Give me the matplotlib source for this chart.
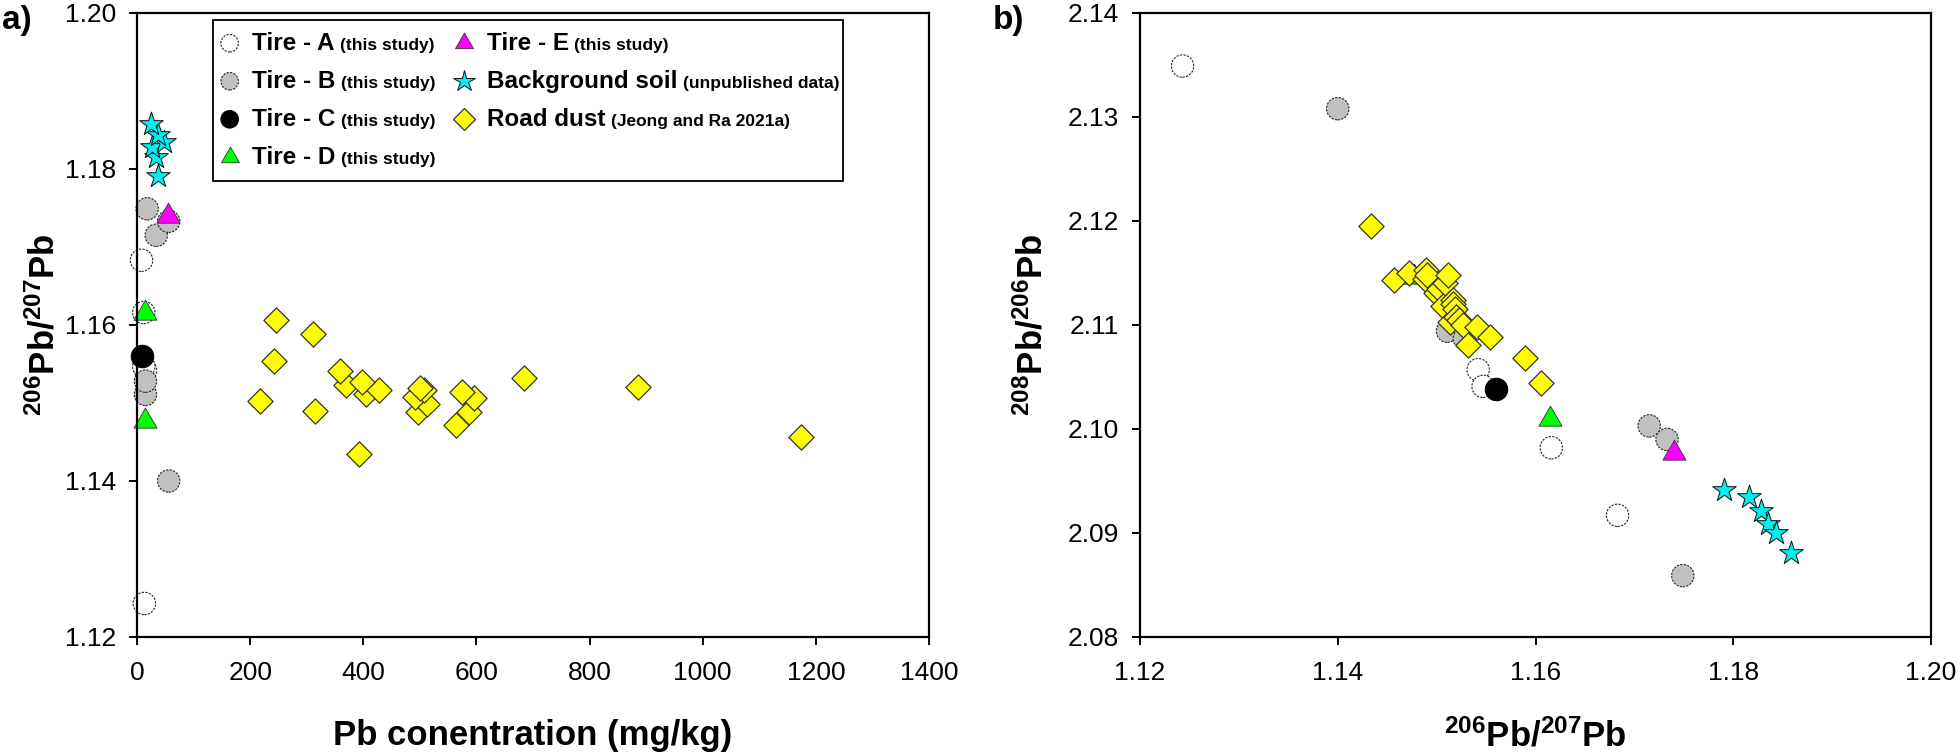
#!/usr/bin/env python3
"""
Pb isotope ratios of tire samples compared with background soil and road dust.
a) 206Pb/207Pb vs Pb concentration, b) 208Pb/206Pb vs 206Pb/207Pb
"""

import matplotlib
matplotlib.use("Agg")
import matplotlib.pyplot as plt
from matplotlib import font_manager
from matplotlib.lines import Line2D
from matplotlib.patches import Circle
from matplotlib.ticker import MultipleLocator, FormatStrFormatter
from matplotlib.offsetbox import (AnchoredOffsetbox, DrawingArea, HPacker,
                                  TextArea, VPacker)


# =============================================================
# DATA  (conc in mg/kg, r67 = 206Pb/207Pb, r86 = 208Pb/206Pb)
# =============================================================

tire_a_conc = [13, 15, 12, 12, 8]
tire_a_r67 = [1.1243, 1.1542, 1.1547, 1.1616, 1.1683]
tire_a_r86 = [2.1349, 2.1057, 2.1041, 2.0982, 2.0917]

tire_b_conc = [56, 15, 15, 34, 56, 18]
tire_b_r67 = [1.1400, 1.1511, 1.1528, 1.1715, 1.1733, 1.1749]
tire_b_r86 = [2.1308, 2.1094, 2.1087, 2.1003, 2.0990, 2.0859]

tire_c_conc = [8]
tire_c_r67 = [1.1560]
tire_c_r86 = [2.1038]

tire_d_conc = [15, 15]
tire_d_r67 = [1.1477, 1.1615]
tire_d_r86 = [2.1146, 2.1010]

tire_e_conc = [54]
tire_e_r67 = [1.1740]
tire_e_r86 = [2.0977]

soil_conc = [38, 34, 26, 48, 38, 24]
soil_r67 = [1.1791, 1.1816, 1.1828, 1.1835, 1.1843, 1.1858]
soil_r86 = [2.0941, 2.0935, 2.0921, 2.0909, 2.0900, 2.0881]

dust_conc = [392, 1174, 564, 586, 496, 315, 512, 217, 595, 492, 405, 575,
             508, 427, 500, 886, 370, 398, 684, 358, 243, 311, 246]
dust_r67 = [1.1434, 1.1457, 1.1472, 1.1488, 1.1489, 1.1490, 1.1499, 1.1502,
            1.1506, 1.1508, 1.1512, 1.1514, 1.1517, 1.1517, 1.1519, 1.1520,
            1.1523, 1.1527, 1.1532, 1.1541, 1.1554, 1.1589, 1.1606]
dust_r86 = [2.1195, 2.1143, 2.1150, 2.1144, 2.1153, 2.1148, 2.1131, 2.1135,
            2.1118, 2.1140, 2.1148, 2.1103, 2.1124, 2.1120, 2.1115, 2.1108,
            2.1105, 2.1100, 2.1081, 2.1098, 2.1088, 2.1068, 2.1044]

legend_main = ["Tire - A", "Tire - B", "Tire - C", "Tire - D",
               "Tire - E", "Background soil", "Road dust"]
legend_note = ["(this study)", "(this study)", "(this study)", "(this study)",
               "(this study)", "(unpublished data)", "(Jeong and Ra 2021a)"]


# =============================================================
# STYLE
# =============================================================

def has_font(name):
    try:
        font_manager.findfont(name, fallback_to_default=False)
        return True
    except ValueError:
        return False


FONT = "Liberation Sans"
NARROW = "Liberation Sans Narrow" if has_font("Liberation Sans Narrow") else FONT

plt.rcParams["font.family"] = [FONT, "DejaVu Sans"]
plt.rcParams["mathtext.fontset"] = "custom"
plt.rcParams["mathtext.rm"] = FONT + ":bold"
plt.rcParams["mathtext.bf"] = FONT + ":bold"
plt.rcParams["mathtext.default"] = "rm"

TRI = (3, 0, 0)
DASH = (0, (2.0, 1.2))

styles = [
    dict(marker="o", s=260, c="white", ec="#222222", lw=0.8, ls=DASH),
    dict(marker="o", s=260, c="#c0c0c0", ec="#222222", lw=0.8, ls=DASH),
    dict(marker="o", s=260, c="black", ec="black", lw=0.8, ls="-"),
    dict(marker=TRI, s=370, c="#00ff00", ec="#333333", lw=0.6, ls="-"),
    dict(marker=TRI, s=370, c="#ff00ff", ec="#333333", lw=0.6, ls="-"),
    dict(marker="*", s=320, c="#00f0f0", ec="#111111", lw=0.7, ls="-"),
    dict(marker="D", s=165, c="#ffff00", ec="#333333", lw=0.9, ls="-"),
]

groups_a = [(tire_a_conc, tire_a_r67), (tire_b_conc, tire_b_r67),
            (tire_c_conc, tire_c_r67), (tire_d_conc, tire_d_r67),
            (tire_e_conc, tire_e_r67), (soil_conc, soil_r67),
            (dust_conc, dust_r67)]

groups_b = [(tire_a_r67, tire_a_r86), (tire_b_r67, tire_b_r86),
            (tire_c_r67, tire_c_r86), (tire_d_r67, tire_d_r86),
            (tire_e_r67, tire_e_r86), (soil_r67, soil_r86),
            (dust_r67, dust_r86)]


# =============================================================
# FIGURE
# =============================================================

W, H = 1958, 756
fig = plt.figure(figsize=(W / 100, H / 100), dpi=100)

ax1 = fig.add_axes([137 / W, 1 - 637 / H, 792 / W, 624 / H])
ax2 = fig.add_axes([1140 / W, 1 - 637 / H, 791 / W, 624 / H])

for ax, groups in ((ax1, groups_a), (ax2, groups_b)):
    for (xs, ys), st in zip(groups, styles):
        ax.scatter(xs, ys, marker=st["marker"], s=st["s"], c=st["c"],
                   edgecolors=st["ec"], linewidths=st["lw"],
                   linestyles=st["ls"], clip_on=False)

    for sp in ax.spines.values():
        sp.set_linewidth(1.6)
    ax.tick_params(direction="out", length=6, width=1.4, labelsize=19)
    ax.tick_params(axis="x", pad=11)
    ax.tick_params(axis="y", pad=9)


# Panel a
ax1.set_xlim(0, 1400)
ax1.set_ylim(1.12, 1.20)
ax1.xaxis.set_major_locator(MultipleLocator(200))
ax1.yaxis.set_major_locator(MultipleLocator(0.02))
ax1.yaxis.set_major_formatter(FormatStrFormatter("%.2f"))

ax1.set_xlabel("Pb conentration (mg/kg)", fontsize=25, fontweight="bold")
ax1.set_ylabel(r"$^{206}$Pb/$^{207}$Pb", fontsize=25, fontweight="bold")
ax1.xaxis.set_label_coords(0.5, -0.158)
ax1.xaxis.label.set_va("center")
ax1.yaxis.set_label_coords(-0.117, 0.5)
ax1.yaxis.label.set_va("center")

# Panel b
ax2.set_xlim(1.12, 1.20)
ax2.set_ylim(2.08, 2.14)
ax2.xaxis.set_major_locator(MultipleLocator(0.02))
ax2.yaxis.set_major_locator(MultipleLocator(0.01))
ax2.xaxis.set_major_formatter(FormatStrFormatter("%.2f"))
ax2.yaxis.set_major_formatter(FormatStrFormatter("%.2f"))

ax2.set_xlabel(r"$^{206}$Pb/$^{207}$Pb", fontsize=25, fontweight="bold")
ax2.set_ylabel(r"$^{208}$Pb/$^{206}$Pb", fontsize=25, fontweight="bold")
ax2.xaxis.set_label_coords(0.5, -0.158)
ax2.xaxis.label.set_va("center")
ax2.yaxis.set_label_coords(-0.137, 0.5)
ax2.yaxis.label.set_va("center")

# Panel letters
fig.text(0.001, 1 - 21 / H, "a)", fontsize=24, fontweight="bold",
         ha="left", va="center")
fig.text(993 / W, 1 - 21 / H, "b)", fontsize=24, fontweight="bold",
         ha="left", va="center")


# =============================================================
# LEGEND (main label + smaller note, like the original)
# =============================================================

def legend_row(st, main, note):
    da = DrawingArea(18, 27.4, 0, 0)
    if st["marker"] == "o":
        da.add_artist(Circle((9, 13.7), radius=6.3, fc=st["c"], ec=st["ec"],
                             lw=st["lw"], ls=st["ls"]))
    else:
        ms = {"D": 11, "*": 16}.get(st["marker"], 15)
        da.add_artist(Line2D([9], [13.7], ls="none", marker=st["marker"],
                             markersize=ms, markerfacecolor=st["c"],
                             markeredgecolor=st["ec"],
                             markeredgewidth=st["lw"]))
    t_main = TextArea(main, textprops=dict(fontsize=17.5, fontweight="bold",
                                           family=NARROW))
    t_note = TextArea(note, textprops=dict(fontsize=12.5, fontweight="bold",
                                           family=NARROW))
    label = HPacker(children=[t_main, t_note], align="baseline", pad=0, sep=4)
    return HPacker(children=[da, label], align="center", pad=0, sep=7)


rows = [legend_row(st, m, n) for st, m, n in zip(styles, legend_main, legend_note)]
col1 = VPacker(children=rows[:4], align="left", pad=0, sep=0)
col2 = VPacker(children=rows[4:], align="left", pad=0, sep=0)
body = HPacker(children=[col1, col2], align="top", pad=0, sep=12)

legend = AnchoredOffsetbox(loc="upper left", child=body, pad=0.3,
                           borderpad=0, frameon=True,
                           bbox_to_anchor=(213 / W, 1 - 20 / H),
                           bbox_transform=fig.transFigure)
legend.patch.set_edgecolor("black")
legend.patch.set_linewidth(1.3)
ax1.add_artist(legend)

fig.savefig("out.png", dpi=100)
